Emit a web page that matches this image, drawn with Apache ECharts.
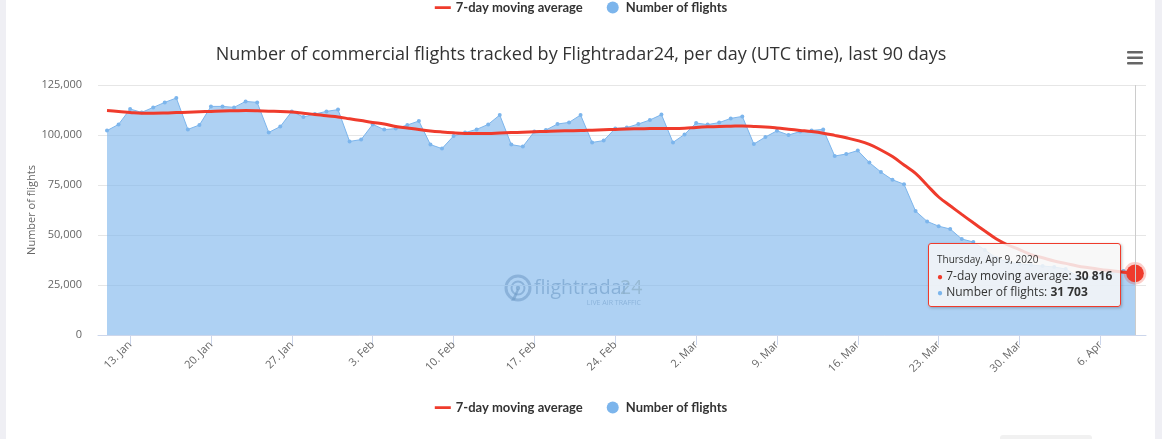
<!DOCTYPE html>
<html>
<head>
<meta charset="utf-8">
<script src="https://cdn.jsdelivr.net/npm/echarts@6/dist/echarts.min.js"></script>
<style>
html,body{margin:0;padding:0;background:#ffffff;}
#chart{width:1162px;height:439px;}
</style>
</head>
<body>
<div id="chart"></div>
<script>
// ---- data ----
const firstDate = '2020-01-11';
const flights = [
  102200,105300,113000,111300,113800,116300,118500,102800,105000,114300,
  114300,113800,116800,116300,101300,104200,111800,109000,110500,111800,
  112700,96800,97700,105300,102700,103200,105000,107000,95200,93200,
  99500,101200,102800,105300,110000,95200,94200,101700,102500,105500,
  106300,110000,96300,97200,103300,103700,105500,107500,110200,96300,
  100300,106000,105200,106200,108300,109300,95500,99000,102100,100000,
  101700,102300,102800,89500,90500,92200,86200,81500,77600,75400,
  62000,56800,54400,53000,48000,46500,42500,38500,36500,35500,
  35000,34500,34000,33000,29500,28500,30500,31000,32000,31703
];
const movingAverage = [
  112200,111800,111300,110900,110900,111000,111200,111400,111600,111800,
  112000,112100,112200,112100,111900,111800,111500,110900,110300,109600,
  109000,108100,107200,106300,105500,104300,103500,102700,102000,101500,
  101100,100800,100700,100800,101000,101200,101400,101600,101800,102000,
  102100,102200,102400,102600,102800,103000,103100,103200,103300,103300,
  103400,103800,104100,104300,104400,104500,104300,104000,103500,102900,
  102300,101700,100900,99800,98600,97200,95300,92500,89200,85000,
  80800,74900,69000,64600,60300,56100,52000,48000,45000,42700,
  40200,38600,37000,35800,34500,33600,32800,32100,31400,30816
];
const tickDates = ['2020-01-13','2020-01-20','2020-01-27','2020-02-03','2020-02-10','2020-02-17','2020-02-24','2020-03-02','2020-03-09','2020-03-16','2020-03-23','2020-03-30','2020-04-06'];
const tickLabels = ['13. Jan','20. Jan','27. Jan','3. Feb','10. Feb','17. Feb','24. Feb','2. Mar','9. Mar','16. Mar','23. Mar','30. Mar','6. Apr'];
const yTicks = [0, 25000, 50000, 75000, 100000, 125000];

// ---- build ----
const DAY = 86400000;
const t0 = new Date(firstDate).getTime();
const tickDays = tickDates.map(d => Math.round((new Date(d).getTime() - t0) / DAY));
const RED = '#ef3b2c';
const BLUE = '#7cb5ec';
const weekdays = ['Sunday','Monday','Tuesday','Wednesday','Thursday','Friday','Saturday'];
const monthsShort = ['Jan','Feb','Mar','Apr','May','Jun','Jul','Aug','Sep','Oct','Nov','Dec'];
const fmtSpace = v => String(v).replace(/\B(?=(\d{3})+(?!\d))/g, ' ');
const fmtComma = v => String(v).replace(/\B(?=(\d{3})+(?!\d))/g, ',');
const lastIdx = flights.length - 1;

const flightData = flights.map((v, i) => [i, v]);
const maData = movingAverage.map((v, i) => {
  if (i === lastIdx) {
    return {value: [i, v], symbol: 'circle', symbolSize: 16,
      itemStyle: {color: RED, borderColor: 'rgba(239,59,44,0.25)', borderWidth: 5}};
  }
  return [i, v];
});

// thin line legend icon inside a 16x12 box (tiny corner specks fix the bounds)
const lineIcon = 'path://M0,0 L0.01,0 L0.01,0.01 Z M0,4.8 L16,4.8 L16,7.4 L0,7.4 Z M16,12 L15.99,12 L15.99,11.99 Z';

const chart = echarts.init(document.getElementById('chart'), null, {renderer: 'canvas'});
const legendCommon = {
  left: 'center', itemWidth: 16, itemHeight: 12, itemGap: 24, padding: 0,
  textStyle: {fontFamily: 'Lato', fontWeight: 'bold', fontSize: 13, color: '#333333'},
  data: [
    {name: '7-day moving average', icon: lineIcon, itemStyle: {color: RED}},
    {name: 'Number of flights', icon: 'circle'}
  ],
  selectedMode: false
};
chart.setOption({
  animation: false,
  backgroundColor: '#ffffff',
  textStyle: {fontFamily: 'Open Sans'},
  title: {
    text: 'Number of commercial flights tracked by Flightradar24, per day (UTC time), last 90 days',
    left: 'center', top: 41,
    textStyle: {fontFamily: 'Open Sans', fontWeight: 'normal', fontSize: 18, color: '#333333'}
  },
  legend: [
    Object.assign({top: 1}, legendCommon),
    Object.assign({top: 401}, legendCommon)
  ],
  grid: {left: 98, right: 16, top: 85, bottom: 104, containLabel: false},
  tooltip: {
    trigger: 'axis',
    triggerOn: 'none',
    alwaysShowContent: true,
    backgroundColor: 'rgba(247,247,247,0.85)',
    borderColor: RED,
    borderWidth: 1,
    borderRadius: 3,
    padding: [8, 8, 6, 8],
    extraCssText: 'box-shadow: 1px 1px 3px rgba(0,0,0,0.25);',
    axisPointer: {type: 'line', lineStyle: {color: '#cccccc', width: 1, type: 'solid'}, animation: false, label: {show: false}},
    position: function () { return [928, 243]; },
    formatter: function (params) {
      const d = new Date(t0 + params[0].value[0] * DAY);
      const head = weekdays[d.getUTCDay()] + ', ' + monthsShort[d.getUTCMonth()] + ' ' + d.getUTCDate() + ', ' + d.getUTCFullYear();
      const byName = {};
      params.forEach(p => { byName[p.seriesName] = p; });
      const row = (name, color) => {
        const p = byName[name];
        return '<div style="font-size:12px;line-height:16px;white-space:nowrap;"><span style="color:' + color + ';font-size:10px;">\u25CF</span> ' + name + ': <b>' + fmtSpace(p.value[1]) + '</b></div>';
      };
      return '<div style="font-family:Open Sans;color:#333;">' +
        '<div style="font-size:10px;line-height:14px;margin-bottom:2px;">' + head + '</div>' +
        row('7-day moving average', RED) + row('Number of flights', BLUE) + '</div>';
    }
  },
  xAxis: {
    type: 'value',
    min: -0.78,
    max: lastIdx + 0.95,
    axisLine: {show: true, lineStyle: {color: '#ccd6eb', width: 1}},
    axisTick: {show: true, length: 10, lineStyle: {color: '#ccd6eb'}, customValues: tickDays},
    axisLabel: {
      customValues: tickDays, rotate: 45, margin: 8,
      fontFamily: 'Open Sans', fontSize: 11, color: '#666666',
      formatter: function (v) {
        const k = tickDays.indexOf(Math.round(v));
        return k >= 0 ? tickLabels[k] : '';
      }
    },
    splitLine: {show: false}
  },
  yAxis: {
    type: 'value',
    min: yTicks[0], max: yTicks[yTicks.length - 1], interval: 25000,
    name: 'Number of flights', nameLocation: 'middle', nameGap: 61, nameMoveOverlap: false,
    nameTextStyle: {fontFamily: 'Open Sans', fontSize: 11, color: '#666666'},
    axisLine: {show: false}, axisTick: {show: false},
    axisLabel: {margin: 16, fontFamily: 'Open Sans', fontSize: 11, color: '#666666', formatter: v => fmtComma(v)},
    splitLine: {lineStyle: {color: '#e6e6e6', width: 1}}
  },
  series: [
    {
      name: 'Number of flights', type: 'line', data: flightData,
      symbol: 'circle', symbolSize: 4, showAllSymbol: true,
      itemStyle: {color: BLUE},
      lineStyle: {color: BLUE, width: 1},
      areaStyle: {color: BLUE, opacity: 0.62},
      emphasis: {disabled: true},
      z: 2
    },
    {
      name: '7-day moving average', type: 'line', data: maData,
      symbol: 'none', smooth: 0.4,
      itemStyle: {color: RED},
      lineStyle: {color: RED, width: 3},
      emphasis: {disabled: true},
      z: 3
    }
  ],
  graphic: [
    {type: 'rect', shape: {x: 0, y: 0, width: 6, height: 439}, style: {fill: '#efeff4'}, silent: true},
    {type: 'rect', shape: {x: 1155, y: 0, width: 7, height: 439}, style: {fill: '#efeff4'}, silent: true},
    {type: 'rect', shape: {x: 1000, y: 435, width: 92, height: 6, r: 3}, style: {fill: '#f1f1f1'}, silent: true},
    {type: 'rect', shape: {x: 1127, y: 51, width: 16, height: 2.5, r: 1}, style: {fill: '#666666'}, silent: true},
    {type: 'rect', shape: {x: 1127, y: 56.5, width: 16, height: 2.5, r: 1}, style: {fill: '#666666'}, silent: true},
    {type: 'rect', shape: {x: 1127, y: 62, width: 16, height: 2.5, r: 1}, style: {fill: '#666666'}, silent: true},
    {type: 'group', silent: true, z: 10, children: [
      {type: 'circle', shape: {cx: 518, cy: 288, r: 12}, style: {fill: 'none', stroke: 'rgba(85,110,135,0.55)', lineWidth: 3}},
      {type: 'circle', shape: {cx: 518, cy: 288, r: 6.5}, style: {fill: 'none', stroke: 'rgba(85,110,135,0.55)', lineWidth: 2}},
      {type: 'circle', shape: {cx: 518, cy: 288, r: 2.2}, style: {fill: 'rgba(85,110,135,0.6)'}},
      {type: 'polygon', shape: {points: [[517, 289], [511, 301], [515, 300], [519, 290]]}, style: {fill: 'rgba(85,110,135,0.6)'}},
      {type: 'text', style: {x: 534, y: 298, text: 'flightradar', font: '19.5px "Open Sans"', fill: 'rgba(85,110,135,0.6)', textVerticalAlign: 'bottom'}},
      {type: 'text', style: {x: 620, y: 298, text: '24', font: '19.5px "Open Sans"', fill: 'rgba(170,170,145,0.75)', textVerticalAlign: 'bottom'}},
      {type: 'text', style: {x: 641, y: 306, text: 'LIVE AIR TRAFFIC', font: '7px "Open Sans"', fill: 'rgba(85,110,135,0.55)', textAlign: 'right', textVerticalAlign: 'bottom'}}
    ]}
  ]
});
chart.dispatchAction({type: 'showTip', seriesIndex: 1, dataIndex: lastIdx});
</script>
</body>
</html>
